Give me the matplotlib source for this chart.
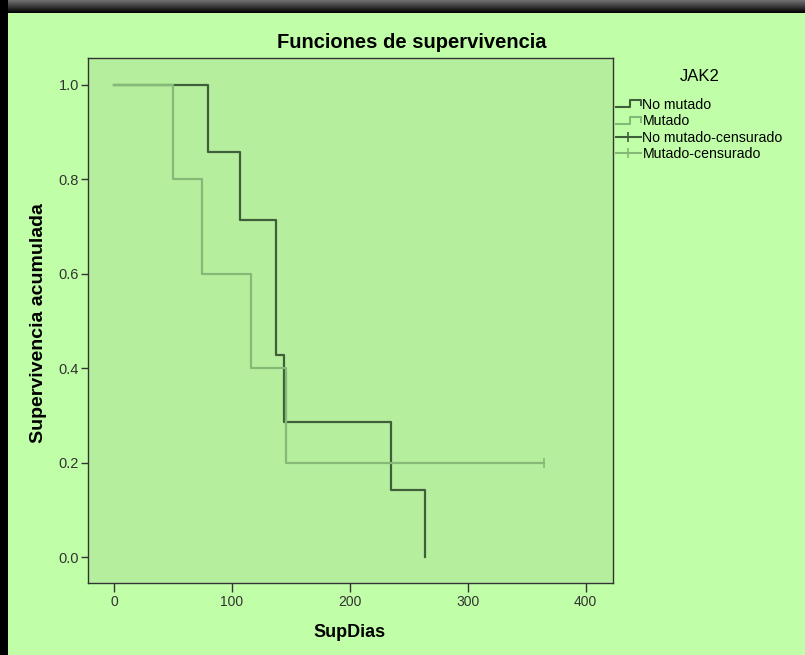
import numpy as np
import matplotlib
matplotlib.use("Agg")
import matplotlib.pyplot as plt
from matplotlib.lines import Line2D
from matplotlib.legend_handler import HandlerBase
from matplotlib.patches import Rectangle

plt.rcParams['font.family'] = ['Liberation Sans', 'DejaVu Sans']

# ---- data ----
no_mut_times = [0, 80, 107, 137, 144, 235, 264]
no_mut_surv = [1.0, 0.857, 0.714, 0.429, 0.286, 0.143, 0.0]
mut_times = [0, 50, 75, 116, 146, 365]
mut_surv = [1.0, 0.8, 0.6, 0.4, 0.2, 0.2]
mut_cens_times = [365]
mut_cens_surv = [0.2]
x_ticks = [0, 100, 200, 300, 400]
y_ticks = [0.0, 0.2, 0.4, 0.6, 0.8, 1.0]
legend_labels = ["No mutado", "Mutado", "No mutado-censurado", "Mutado-censurado"]

FIG_BG = "#c0ffa8"
AX_BG = "#b5ef9e"
DARK = "#3f5f3a"
LIGHT = "#86b878"

W, H = 805, 655
fig = plt.figure(figsize=(W / 100, H / 100), dpi=100)
fig.patch.set_facecolor(FIG_BG)

# window-like dark frame at top and left
top_ax = fig.add_axes([0, 1 - 13 / H, 1, 13 / H])
grad = np.linspace(0.45, 0.0, 50).reshape(-1, 1)
top_ax.imshow(grad, aspect='auto', cmap='gray', vmin=0, vmax=1, extent=[0, 1, 0, 1])
top_ax.set_axis_off()
fig.patches.append(Rectangle((0, 0), 8 / W, 1, transform=fig.transFigure,
                             facecolor="black", edgecolor="none", zorder=5))

ax = fig.add_axes([87.5 / W, 1 - 583.3 / H, 525 / W, 525 / H])
ax.set_facecolor(AX_BG)

ax.step(no_mut_times, no_mut_surv, where='post', color=DARK, lw=1.6, zorder=3)
ax.step(mut_times, mut_surv, where='post', color=LIGHT, lw=1.6, zorder=4)
ax.plot(mut_cens_times, mut_cens_surv, linestyle='none', marker='|',
        markersize=7, mew=1.2, color=LIGHT, zorder=4)

ax.set_xlim(-22.4, 422.7)
ax.set_ylim(-0.055, 1.056)
ax.set_xticks(x_ticks)
ax.set_yticks(y_ticks)
ax.set_yticklabels([f"{v:.1f}" for v in y_ticks])
ax.tick_params(axis='x', direction='out', length=6.5, width=1, color="#333333",
               labelsize=10, labelcolor="#333333", pad=2)
ax.tick_params(axis='y', direction='out', length=5, width=1, color="#333333",
               labelsize=10.5, labelcolor="#333333", pad=1)
for s in ax.spines.values():
    s.set_color("#333333")
    s.set_linewidth(1)

fig.text(412 / W, 1 - 42 / H, "Funciones de supervivencia", fontsize=14.5,
         fontweight='bold', ha='center', va='center')
ax.set_xlabel("SupDias", fontsize=13, fontweight='bold', labelpad=11)
ax.set_ylabel("Supervivencia acumulada", fontsize=14, fontweight='bold')
ax.yaxis.set_label_coords(-0.078, 0.496)


class StepHandler(HandlerBase):
    def create_artists(self, legend, orig_handle, xdescent, ydescent,
                       width, height, fontsize, trans):
        xs = np.array([0, 0.55, 0.55, 1.0, 1.0]) * width - xdescent
        ys = np.array([0.15, 0.15, 0.85, 0.85, 0.35]) * height - ydescent
        ln = Line2D(xs, ys, color=orig_handle.get_color(), lw=1.5, transform=trans)
        return [ln]


h1 = Line2D([], [], color=DARK, lw=1.5)
h2 = Line2D([], [], color=LIGHT, lw=1.5)
h3 = Line2D([], [], color=DARK, lw=1.5, marker='|', markersize=7.5, mew=1.2)
h4 = Line2D([], [], color=LIGHT, lw=1.5, marker='|', markersize=7.5, mew=1.2)

leg = fig.legend([h1, h2, h3, h4], legend_labels,
                 handler_map={h1: StepHandler(), h2: StepHandler()},
                 loc='upper left', bbox_to_anchor=(616 / W, 1 - 69 / H),
                 frameon=False, fontsize=10.2, title="JAK2", title_fontsize=12,
                 handlelength=1.75, handletextpad=0.12, labelspacing=0.17,
                 borderpad=0, borderaxespad=0, numpoints=1)
leg._legend_box.sep = 10

fig.savefig("out.png", dpi=100, facecolor=FIG_BG)
